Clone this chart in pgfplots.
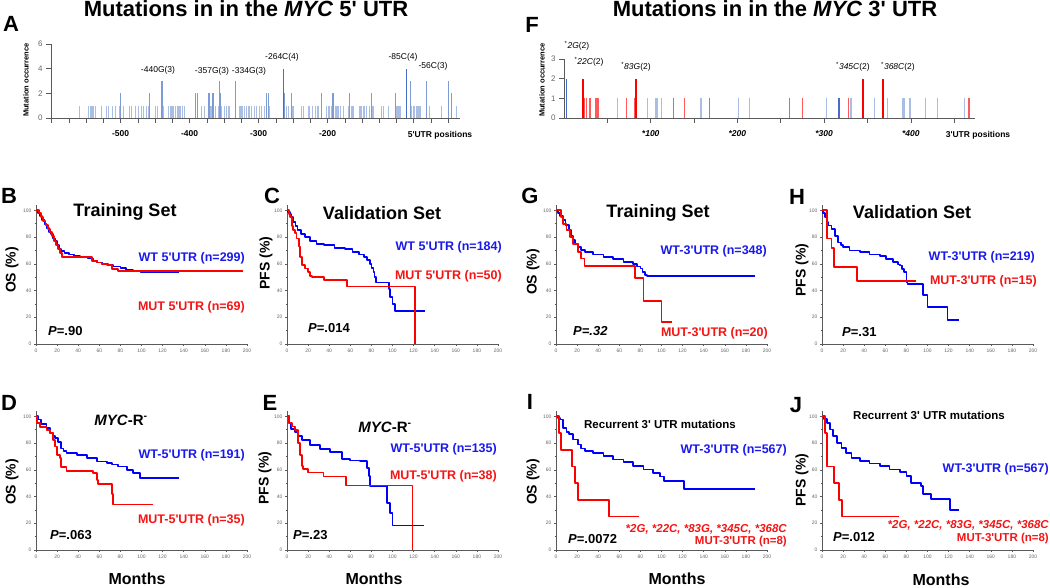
\documentclass[border=0pt]{standalone}
\usepackage{fontspec}
\setmainfont{Liberation Sans}
\usepackage{pgfplots}
\pgfplotsset{compat=1.18}
\definecolor{lb1}{RGB}{170,190,228}
\definecolor{lb2}{RGB}{125,155,212}
\definecolor{lb3}{RGB}{70,110,200}
\definecolor{lr1}{RGB}{255,90,90}
\definecolor{axg}{RGB}{90,90,90}
\definecolor{tblue}{RGB}{25,25,235}
\definecolor{tred}{RGB}{245,20,20}
\definecolor{cblue}{RGB}{0,0,255}
\definecolor{cred}{RGB}{255,0,0}
\newcommand{\ap}{\textquotesingle}
\pgfplotsset{
 km/.style={scale only axis, width=211pt, height=139pt, xmin=0,xmax=200,ymin=0,ymax=104,
  axis lines=left, axis line style={axg, line width=0.8pt, -},
  xtick={0,20,...,200}, ytick={0,20,...,100}, minor x tick num=1, minor y tick num=1,
  tick align=outside, major tick length=2pt, minor tick length=1.5pt, tick style={axg, line width=0.5pt},
  tick label style={font=\fontsize{5}{6}\selectfont, text=gray!80!black},
  xticklabel style={yshift=1pt}, yticklabel style={xshift=1pt},
  /pgf/number format/assume math mode=true, clip=false},
 wt/.style={const plot, draw=cblue, line width=1.8pt, line join=round, mark=none},
 mut/.style={const plot, draw=cred, line width=1.8pt, line join=round, mark=none},
}
\begin{document}
\begin{tikzpicture}[x=1pt,y=1pt]
\useasboundingbox (0,0) rectangle (1050,588);
% ---------------- Panel A
\begin{axis}[at={(51pt,470pt)},anchor=south west, scale only axis, width=409pt, height=74pt,
 xmin=-601,xmax=-8, ymin=0,ymax=6, axis lines=left, axis line style={axg,line width=0.8pt,-},
 xtick={-500,-400,-300,-200}, minor xtick={-600,-575,...,-25}, ytick={0,2,4,6},
 tick align=outside, major tick length=5pt, minor tick length=5pt, tick style={axg,line width=0.6pt},
 xticklabel style={font={\bfseries\fontsize{8.5}{10}\selectfont}, yshift=-4pt},
 yticklabel style={font={\fontsize{8}{9}\selectfont}, text=gray!80!black},
 /pgf/number format/assume math mode=true]
\addplot[ycomb, draw=lb1, line width=1.2pt, mark=none] coordinates {(-560,1)(-547,1)(-543,1)(-540,1)(-537,1)(-528,1)(-521,1)(-518,1)(-512,1)(-508,1)(-502,1)(-496,1)(-487,1)(-484,1)(-479,1)(-474,1)(-470,1)(-467,1)(-462,1)(-459,1)(-450,1)(-447,1)(-438,1)(-431,1)(-428,1)(-426,1)(-424,1)(-420,1)(-417,1)(-414,1)(-410,1)(-407,1)(-383,1)(-379,1)(-373,1)(-369,1)(-363,1)(-358,1)(-354,1)(-350,1)(-346,1)(-343,1)(-327,1)(-324,1)(-321,1)(-317,1)(-314,1)(-310,1)(-306,1)(-303,1)(-299,1)(-296,1)(-291,1)(-284,1)(-263,1)(-260,1)(-257,1)(-250,1)(-238,1)(-235,1)(-228,1)(-226,1)(-222,1)(-218,1)(-214,1)(-202,1)(-199,1)(-197,1)(-194,1)(-189,1)(-187,1)(-185,1)(-181,1)(-177,1)(-170,1)(-165,1)(-163,1)(-153,1)(-151,1)(-148,1)(-146,1)(-144,1)(-139,1)(-134,1)(-122,1)(-119,1)(-112,1)(-100,1)(-98,1)(-95,1)(-86,1)(-78,1)(-76,1)(-74,1)(-71,1)(-69,1)(-66,1)(-52,1)(-35,1)(-13,1)};
\addplot[ycomb, draw=lb2, line width=1.2pt, mark=none] coordinates {(-500,2)(-458,2)(-392,2)(-389,2)(-372,2)(-366,2)(-355,2)(-288,2)(-286,2)(-262,2)(-252,2)(-209,2)(-192,2)(-168,2)(-136,2)(-102,2)(-20,2)};
\addplot[ycomb, draw=lb2, line width=1.2pt, mark=none] coordinates {(-440,3)(-357,3)(-334,3)(-80,3)(-56,3)(-25,3)};
\addplot[ycomb, draw=lb3, line width=1.2pt, mark=none] coordinates {(-264,4)(-85,4)};
\end{axis}
% ---------------- Panel F
\begin{axis}[at={(564pt,470pt)},anchor=south west, scale only axis, width=411pt, height=59pt,
 xmin=0,xmax=474, ymin=0,ymax=3, axis lines=left, axis line style={axg,line width=0.8pt,-},
 xtick={100,200,300,400}, xticklabels={*100,*200,*300,*400}, minor xtick={50,150,...,450}, ytick={0,1,2,3},
 tick align=outside, major tick length=5pt, minor tick length=5pt, tick style={axg,line width=0.6pt},
 xticklabel style={font={\bfseries\itshape\fontsize{8.5}{10}\selectfont}, yshift=-4pt},
 yticklabel style={font={\fontsize{8}{9}\selectfont}, text=gray!80!black},
 /pgf/number format/assume math mode=true]
\addplot[ycomb, draw=lb1, line width=1.2pt, mark=none] coordinates {(62,1)(96,1)(106,1)(108,1)(112,1)(158,1)(201,1)(214,1)(303,1)(331,1)(358,1)(373,1)(391,1)(392,1)(399,1)(417,1)(431,1)(462,1)};
\addplot[ycomb, draw=lb3, line width=1.6pt, mark=none] coordinates {(3,2)(317,1)};
\addplot[ycomb, draw=lr1, line width=1.2pt, mark=none] coordinates {(24,1)(26,1)(30,1)(37,1)(39,1)(40,1)(72,1)(81,1)(126,1)(139,1)(168,1)(260,1)(275,1)(328,1)(467,1)};
\addplot[ycomb, draw=cred, line width=1.6pt, mark=none] coordinates {(22,2)(83,2)(345,2)(368,2)};
\end{axis}
% ---------------- B
\begin{axis}[km, at={(36pt,244pt)}, anchor=south west]
\addplot[wt] coordinates {(0,100)(2,98)(4,96)(6,93)(8,90)(10,87)(12,84)(14,82)(16,79)(18,77)(20,74)(22,71)(24,69.5)(27,68)(31,67)(36,66)(42,65)(49,64)(54,62.5)(58,61)(63,60)(68,59)(73,58)(80,57)(85,55.5)(92,54.5)(99,54)(136,54)};
\addplot[mut] coordinates {(0,100)(3,98)(5,95)(7,92)(9,89)(11,86)(13,84)(15,81)(17,77)(19,74)(21,71)(23,68)(25,65)(53,62)(58,61)(62,60)(67,59)(72,56)(78,54.7)(196,54.7)};
\end{axis}
% ---------------- C
\begin{axis}[km, at={(287pt,244pt)}, anchor=south west]
\addplot[wt] coordinates {(0,100)(1,99)(3,97)(4,95)(6,91)(8,88)(10,85)(13,82)(17,80)(22,77)(28,75)(35,74)(45,72)(55,71)(62,69)(68,67)(73,65)(76,63)(79,60)(80,57)(82,54)(83,50)(84,46)(96.5,41)(98,35)(100,30)(102,24.5)(131,24.5)};
\addplot[mut] coordinates {(0,100)(2,97)(3,95)(5,88)(6,85)(7.5,83)(9,79)(11,73)(12,65)(14,59)(17,56.5)(20,54)(22,51)(24,50)(35,48)(57,43)(121,0)};
\end{axis}
% ---------------- G
\begin{axis}[km, at={(556pt,244pt)}, anchor=south west]
\addplot[wt] coordinates {(0,100)(2,98)(4,96)(7,92.5)(9,89)(12,85)(14,81)(16,77.6)(18,75)(21,72.6)(24,70.5)(27.5,69)(35,67)(45,65)(54,63.4)(64,61.4)(73,59.7)(77,58)(80,56.5)(82,54)(84,51.5)(86,50.7)(189,50.7)};
\addplot[mut] coordinates {(0,100)(5,95)(7,90)(10,85)(13,80)(16,75)(21,69)(24,64)(27,58.6)(75,49.5)(83,32)(100,16.5)(110,16.5)};
\end{axis}
% ---------------- H
\begin{axis}[km, at={(822pt,244pt)}, anchor=south west]
\addplot[wt] coordinates {(0,100)(1,98)(3,95)(5,91)(6,88.7)(9,86)(12,81)(15,76)(18,74)(20,72.6)(26,70)(36,68.8)(45,67)(55,65.8)(61,63.7)(67,61.2)(72,59.5)(74,58.7)(76,56)(78,53.7)(80,46)(81,45)(96,36.5)(100,27.8)(119,17.8)(130,17.8)};
\addplot[mut] coordinates {(0,100)(4.4,79)(9,71.6)(11,57.9)(33,47.2)(89,47.2)};
\end{axis}
% ---------------- D
\begin{axis}[km, at={(36pt,38pt)}, anchor=south west]
\addplot[wt] coordinates {(0,100)(2,97.7)(5,94)(10,91)(13,87.4)(16,85)(18,83.7)(21,81)(24,76)(26,74)(29,72.4)(38.5,71)(48,68.7)(57.5,66.2)(67,65)(72,64)(78,62.4)(86,60)(92,57.4)(98.6,53.7)(136,53.7)};
\addplot[mut] coordinates {(0,100)(1,95)(4,92)(10,90)(13,87.4)(16,82.4)(18,77.4)(20,71)(23,68.7)(24,61.9)(29,59.4)(54,57.4)(57.5,52.4)(59,49.3)(72,42)(73,34)(111,34)};
\end{axis}
% ---------------- E
\begin{axis}[km, at={(287pt,38pt)}, anchor=south west]
\addplot[wt] coordinates {(0,100)(2,95)(4,90.6)(7.6,88.5)(10.8,85.5)(14,82)(22,78.4)(31,75.8)(41,73.3)(52,68)(60,67)(69.5,66.7)(76,61.6)(77.5,55.4)(79,47.9)(95,35.3)(98,27.8)(100,18.3)(130,18.3)};
\addplot[mut] coordinates {(0,100)(2,95)(4.4,92.4)(7.6,90)(10.8,80)(12.4,71)(14,63)(15.5,60.6)(20,58)(34.6,55)(56,48.3)(119,0)};
\end{axis}
% ---------------- I
\begin{axis}[km, at={(556pt,38pt)}, anchor=south west]
\addplot[wt] coordinates {(0,100)(2,98.5)(4,97.7)(7,91.5)(10,88)(12,86.5)(16,82.7)(21,79)(24,76)(27.5,74)(35,72.7)(45,70.2)(54,67.7)(64,65.7)(73,62.7)(83,60.2)(92,57.6)(98.6,55)(102,51.4)(121,45.6)(189,45.6)};
\addplot[mut] coordinates {(0,100)(3,87.5)(4.5,75)(15.5,62.5)(18,50)(21,37.5)(50.5,25)(78.7,25)};
\end{axis}
% ---------------- J
\begin{axis}[km, at={(822pt,38pt)}, anchor=south west]
\addplot[wt] coordinates {(0,100)(2,98)(4.4,95.3)(7.5,90.2)(10.7,85.2)(14,80.2)(18.5,76.4)(23,72.7)(28,69)(36,66.4)(45,64.7)(55,62.7)(64,60.2)(73.6,58.2)(80,55.1)(84.6,50)(94,47.6)(96,42)(103,38)(121,30)(130,30)};
\addplot[mut] coordinates {(0,100)(3,87.5)(5,62.5)(11,50)(16,37.5)(19,25)(72.6,25)};
\end{axis}
% ---------------- texts
\begin{scope}[every node/.style={inner sep=0pt}]
\foreach \l/\x/\y in {A/11/564, F/532/563, B/9/392, C/272/392, G/530/392, H/797/391, D/9/185, E/270/185, I/530/186, J/796/183}
  \node[font=\bfseries\fontsize{22}{24}\selectfont] at (\x,\y) {\l};
\node[anchor=base, font=\bfseries\fontsize{22}{24}\selectfont] at (246,571) {Mutations in in the \textit{MYC} 5\ap{} UTR};
\node[anchor=base, font=\bfseries\fontsize{22}{24}\selectfont] at (775,571) {Mutations in in the \textit{MYC} 3\ap{} UTR};
\node[rotate=90, font=\bfseries\fontsize{7.5}{8}\selectfont] at (26,508) {Mutation occurrence};
\node[rotate=90, font=\bfseries\fontsize{7.5}{8}\selectfont] at (542,508) {Mutation occurrence};
\node[font=\bfseries\fontsize{8.5}{10}\selectfont] at (440,453) {5\ap UTR positions};
\node[font=\bfseries\fontsize{8.5}{10}\selectfont] at (978,453) {3\ap UTR positions};
\begin{scope}[every node/.append style={font=\fontsize{8.5}{10}\selectfont}]
\node at (158,518) {-440G(3)};
\node at (212,517) {-357G(3)};
\node at (249,517) {-334G(3)};
\node at (282,531) {-264C(4)};
\node at (403,531) {-85C(4)};
\node at (433,522) {-56C(3)};
\node at (577,542) {\textsuperscript{*}\textit{2G}(2)};
\node at (589,526) {\textsuperscript{*}\textit{22C}(2)};
\node at (636,521) {\textsuperscript{*}\textit{83G}(2)};
\node at (853,521) {\textsuperscript{*}\textit{345C}(2)};
\node at (898,521) {\textsuperscript{*}\textit{368C}(2)};
\end{scope}
% KM titles
\node[font=\bfseries\fontsize{18}{20}\selectfont] at (125,376) {Training Set};
\node[font=\bfseries\fontsize{18}{20}\selectfont] at (382,375) {Validation Set};
\node[font=\bfseries\fontsize{18}{20}\selectfont] at (658,375) {Training Set};
\node[font=\bfseries\fontsize{18}{20}\selectfont] at (912,376) {Validation Set};
\node[font=\bfseries\fontsize{15}{17}\selectfont] at (121,168) {\textit{MYC}-R\textsuperscript{-}};
\node[font=\bfseries\fontsize{15}{17}\selectfont] at (385,161) {\textit{MYC}-R\textsuperscript{-}};
\node[font=\bfseries\fontsize{11.5}{13}\selectfont] at (660,164) {Recurrent 3\ap{} UTR mutations};
\node[font=\bfseries\fontsize{11.5}{13}\selectfont] at (929,173) {Recurrent 3\ap{} UTR mutations};
% group labels
\begin{scope}[every node/.append style={anchor=east, font=\bfseries\fontsize{12.5}{14}\selectfont}]
\node[text=tblue] at (245,330) {WT 5\ap UTR (n=299)};
\node[text=tred] at (245,281) {MUT 5\ap UTR (n=69)};
\node[text=tblue] at (502,341) {WT 5\ap UTR (n=184)};
\node[text=tred] at (502,312) {MUT 5\ap UTR (n=50)};
\node[text=tblue] at (767,337) {WT-3\ap UTR (n=348)};
\node[text=tred] at (768,255) {MUT-3\ap UTR (n=20)};
\node[text=tblue] at (1035,331) {WT-3\ap UTR (n=219)};
\node[text=tred] at (1037,307) {MUT-3\ap UTR (n=15)};
\node[text=tblue] at (245,133) {WT-5\ap UTR (n=191)};
\node[text=tred] at (245,68) {MUT-5\ap UTR (n=35)};
\node[text=tblue] at (497,139) {WT-5\ap UTR (n=135)};
\node[text=tred] at (497,112) {MUT-5\ap UTR (n=38)};
\node[text=tblue] at (787,138) {WT-3\ap UTR (n=567)};
\node[text=tblue] at (1049,119) {WT-3\ap UTR (n=567)};
\end{scope}
\begin{scope}[every node/.append style={anchor=east, text=tred}]
\node[font=\bfseries\itshape\fontsize{11.5}{13}\selectfont] at (787,59) {*2G, *22C, *83G, *345C, *368C};
\node[font=\bfseries\fontsize{11.5}{13}\selectfont] at (787,46) {MUT-3\ap UTR (n=8)};
\node[font=\bfseries\itshape\fontsize{11.5}{13}\selectfont] at (1049,63) {*2G, *22C, *83G, *345C, *368C};
\node[font=\bfseries\fontsize{11.5}{13}\selectfont] at (1049,49) {MUT-3\ap UTR (n=8)};
\end{scope}
% P values
\begin{scope}[every node/.append style={anchor=west, font=\bfseries\fontsize{13}{15}\selectfont}]
\node at (48,257) {\textit{P}=.90};
\node at (308,260) {\textit{P}=.014};
\node at (573,257) {\textit{P=.32}};
\node at (842,256) {\textit{P}=.31};
\node at (50,53) {\textit{P}=.063};
\node at (293,53) {\textit{P}=.23};
\node at (568,49) {\textit{P}=.0072};
\node at (833,51) {\textit{P}=.012};
\end{scope}
% y labels
\begin{scope}[every node/.append style={rotate=90, font=\bfseries\fontsize{14}{16}\selectfont}]
\node at (12,318) {OS (\%)};
\node at (266,325) {PFS (\%)};
\node at (533,316) {OS (\%)};
\node at (802,318) {PFS (\%)};
\node at (12,106) {OS (\%)};
\node at (265,110) {PFS (\%)};
\node at (533,106) {OS (\%)};
\node at (802,108) {PFS (\%)};
\end{scope}
\begin{scope}[every node/.append style={font=\bfseries\fontsize{16}{18}\selectfont}]
\node at (137,9) {Months};
\node at (374,9) {Months};
\node at (677,9) {Months};
\node at (941,8) {Months};
\end{scope}
\end{scope}
\end{tikzpicture}
\end{document}
